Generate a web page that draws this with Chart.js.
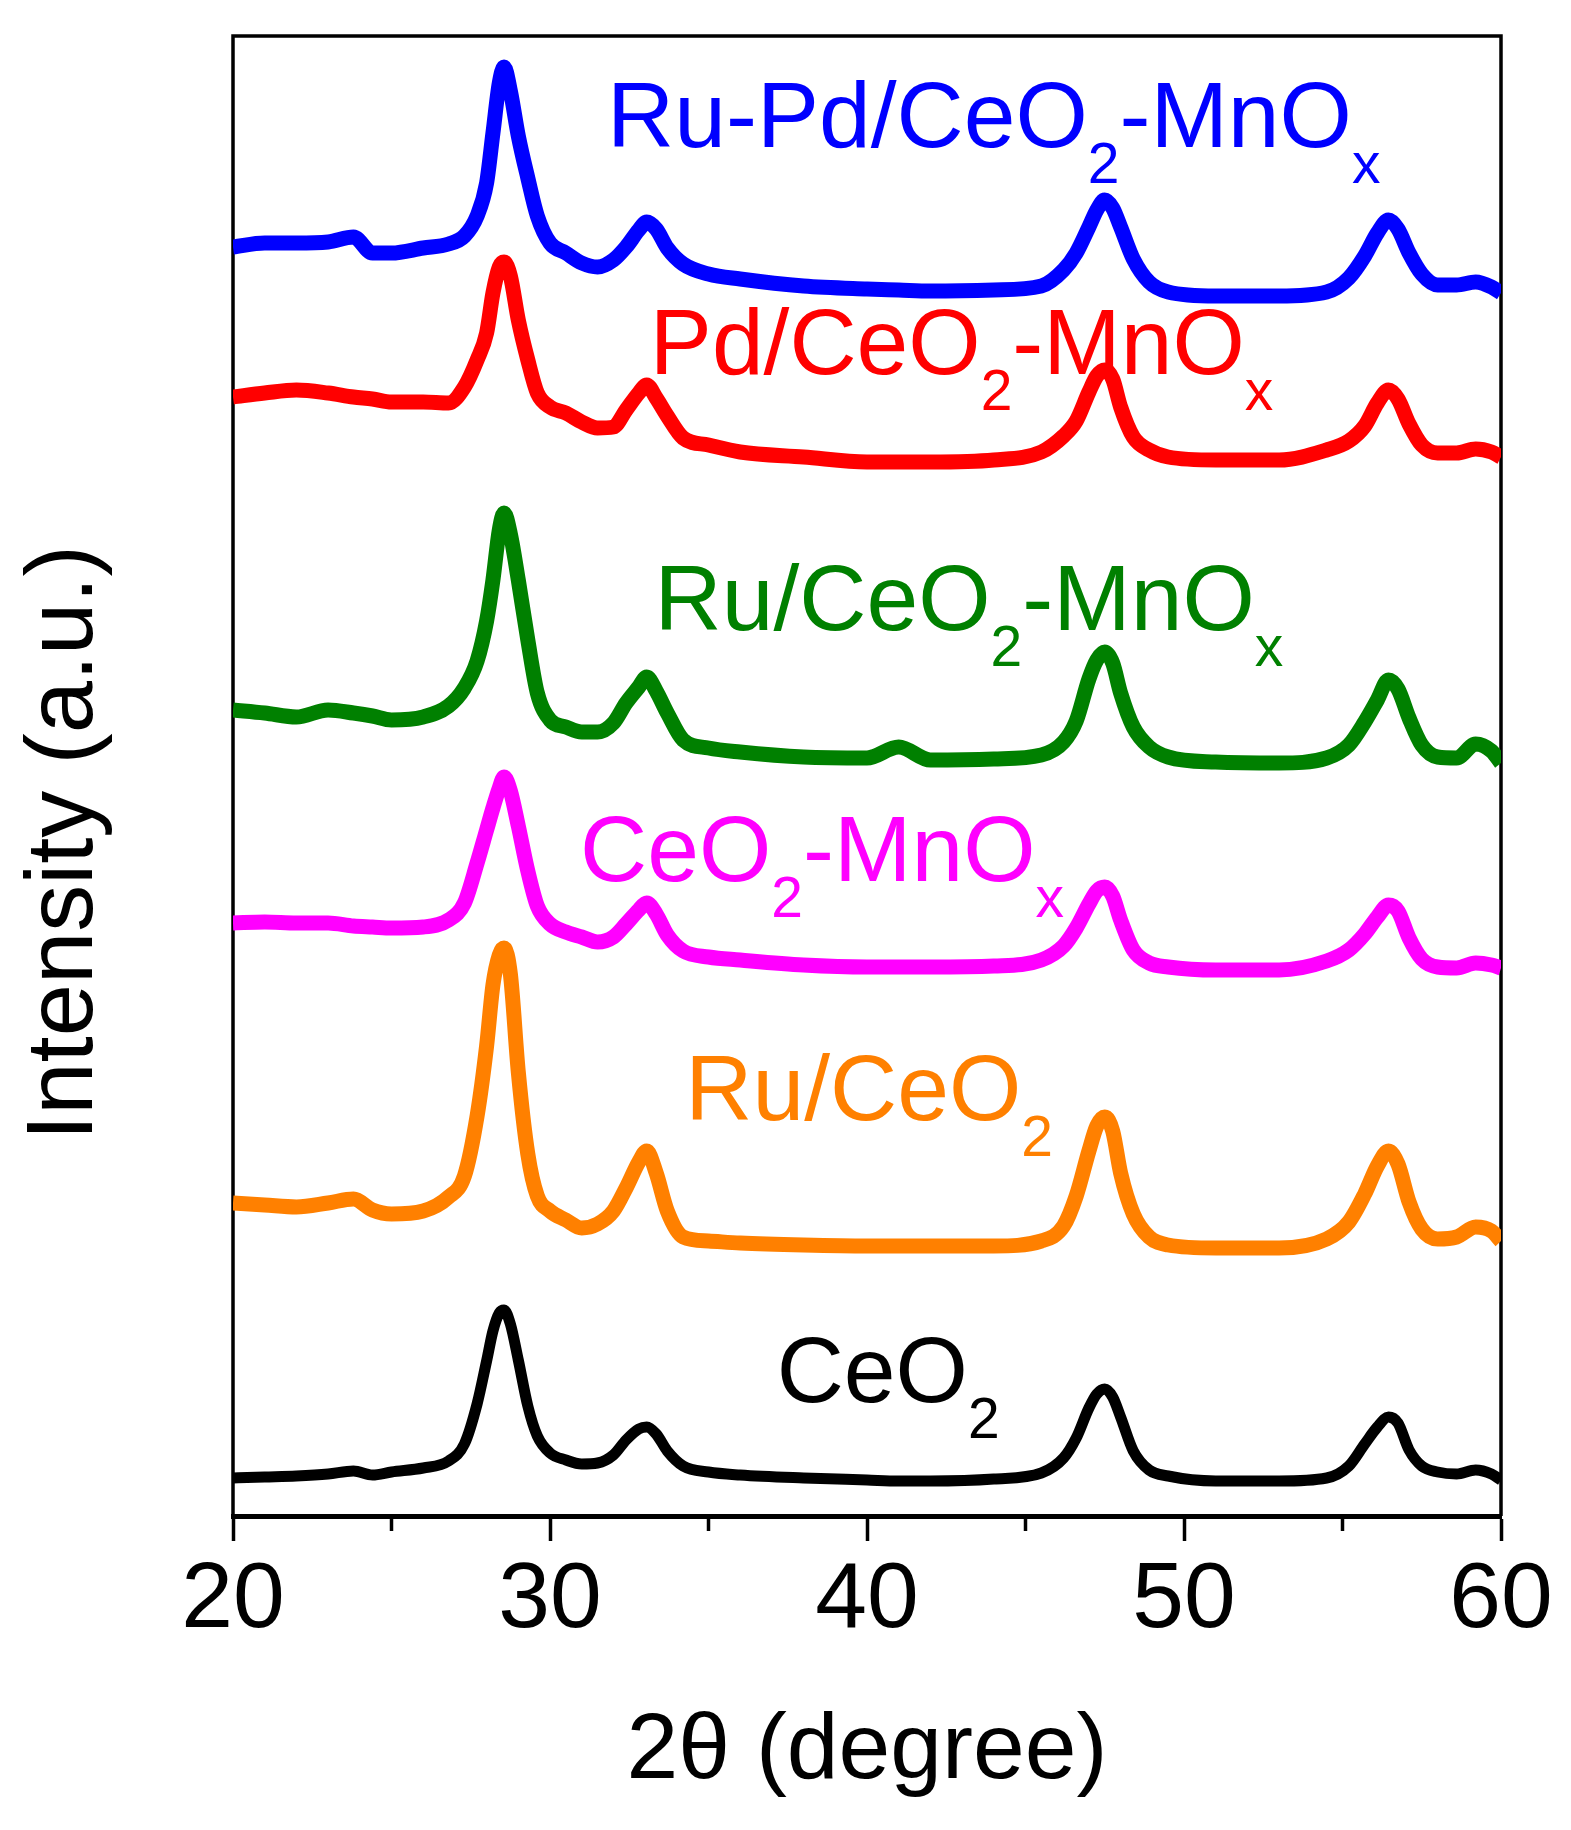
<!DOCTYPE html>
<html>
<head>
<meta charset="utf-8">
<script src="https://cdn.jsdelivr.net/npm/chart.js@4.4.0/dist/chart.umd.min.js"></script>
<style>
  html, body { margin: 0; padding: 0; background: #fff; }
  canvas { display: block; }
</style>
</head>
<body>
<canvas id="xrd" width="1571" height="1830"></canvas>
<script>
const twoTheta = [20, 21, 22, 23, 23.8, 24.4, 25, 26, 26.8, 27.3, 27.7, 28.0, 28.2, 28.4, 28.55, 28.75,
  29.0, 29.3, 29.6, 30.0, 30.5, 31, 31.5, 32, 32.4, 32.8, 33.05, 33.35, 33.7, 34.2, 35, 36, 38, 40, 41, 42,
  44, 45.5, 46.2, 46.6, 47.0, 47.25, 47.5, 47.75, 48.0, 48.4, 48.9, 49.5, 51, 53, 54.5, 55.2, 55.7, 56.1,
  56.45, 56.75, 57.1, 57.5, 58, 58.6, 59.2, 59.7, 60];

// stacked intensities (a.u.), offsets included as drawn
const ruPdCeMn = [1269, 1273, 1273, 1274, 1279, 1263, 1263, 1268, 1272, 1280, 1300, 1333, 1383, 1433, 1449, 1425,
  1380, 1338, 1300, 1273, 1263, 1253, 1249, 1256, 1269, 1286, 1294, 1287, 1268, 1252, 1242, 1237, 1230, 1227, 1226, 1225,
  1226, 1230, 1246, 1263, 1289, 1306, 1316, 1308, 1289, 1257, 1234, 1224, 1220, 1220, 1224, 1238, 1260, 1283,
  1296, 1287, 1263, 1242, 1231, 1231, 1234, 1229, 1223];
const pdCeMn = [1119, 1123, 1126, 1123, 1119, 1117, 1114, 1114, 1113, 1129, 1156, 1183, 1223, 1249, 1254, 1240,
  1196, 1156, 1123, 1109, 1103, 1094, 1088, 1089, 1106, 1123, 1131, 1118, 1100, 1078, 1071, 1064, 1059, 1054, 1054, 1054,
  1056, 1064, 1080, 1095, 1124, 1140, 1146, 1137, 1109, 1079, 1066, 1059, 1056, 1056, 1066, 1075, 1090, 1113,
  1126, 1117, 1092, 1071, 1063, 1063, 1067, 1064, 1059];
const ruCeMn = [806, 803, 799, 806, 803, 800, 796, 799, 810, 828, 855, 895, 936, 986, 1003, 982,
  936, 876, 823, 796, 789, 784, 784, 793, 813, 829, 839, 825, 803, 776, 768, 764, 759, 758, 769, 756,
  757, 761, 774, 795, 837, 856, 864, 853, 823, 789, 769, 759, 754, 753, 758, 771, 794, 816,
  836, 827, 798, 771, 759, 758, 772, 765, 753];
const ceMn = [593, 594, 593, 593, 590, 589, 588, 589, 596, 613, 653, 686, 708, 728, 739, 725,
  690, 645, 610, 592, 584, 579, 574, 579, 592, 606, 613, 602, 581, 565, 559, 556, 551, 549, 549, 549,
  550, 556, 570, 588, 612, 625, 629, 620, 596, 566, 553, 549, 546, 546, 555, 566, 582, 599,
  611, 605, 578, 557, 549, 548, 553, 551, 548];
const ruCe = [313, 311, 309, 313, 317, 306, 302, 305, 319, 340, 400, 470, 531, 561, 568, 542,
  444, 362, 320, 305, 296, 288, 292, 305, 328, 354, 365, 343, 305, 279, 275, 273, 271, 270, 270, 270,
  270, 275, 290, 320, 365, 390, 399, 385, 343, 302, 279, 271, 268, 268, 277, 294, 322, 350,
  365, 352, 314, 287, 277, 279, 289, 285, 275];
const ceO2 = [38, 39, 40, 42, 45, 41, 44, 48, 55, 72, 112, 155, 185, 203, 206, 192,
  156, 110, 80, 63, 56, 52, 53, 61, 76, 87, 89, 82, 65, 50, 44, 41, 38, 36, 35, 35,
  37, 43, 58, 78, 108, 122, 127, 119, 99, 65, 46, 40, 35, 35, 38, 50, 72, 89,
  99, 93, 66, 50, 44, 42, 46, 42, 36];

// sample names split into [text, isSubscript] pieces
const sampleNames = [
  [['Ru-Pd/CeO', 0], ['2', 1], ['-MnO', 0], ['x', 1]],
  [['Pd/CeO', 0], ['2', 1], ['-MnO', 0], ['x', 1]],
  [['Ru/CeO', 0], ['2', 1], ['-MnO', 0], ['x', 1]],
  [['CeO', 0], ['2', 1], ['-MnO', 0], ['x', 1]],
  [['Ru/CeO', 0], ['2', 1]],
  [['CeO', 0], ['2', 1]],
];
const seriesValues = [ruPdCeMn, pdCeMn, ruCeMn, ceMn, ruCe, ceO2];
const seriesColors = ['#0000ff', '#ff0000', '#008000', '#ff00ff', '#ff8000', '#000000'];
// where each name sits, in data units (left edge, baseline)
const nameAt2Theta = [31.8, 33.15, 33.3, 30.95, 34.27, 37.15];
const nameAtValue = [1369, 1142, 886, 635, 396, 114];

const minorTicks = [25, 35, 45, 55];

const FONT = '"Liberation Sans", Arial, Helvetica, sans-serif';
const MAIN_SIZE = 93;
const SUB_SIZE = 57;

const frame = {
  id: 'frame',
  beforeDatasetsDraw(chart) {
    const { ctx, chartArea: a } = chart;
    ctx.save();
    ctx.strokeStyle = '#000';
    ctx.lineWidth = 3.5;
    ctx.beginPath();
    ctx.moveTo(a.left, a.bottom);
    ctx.lineTo(a.left, a.top);
    ctx.lineTo(a.right, a.top);
    ctx.lineTo(a.right, a.bottom);
    ctx.stroke();
    // minor ticks
    const x = chart.scales.x;
    minorTicks.forEach((v) => {
      const px = x.getPixelForValue(v);
      ctx.beginPath();
      ctx.moveTo(px, a.bottom);
      ctx.lineTo(px, a.bottom + 15);
      ctx.stroke();
    });
    ctx.restore();
  },
  afterDraw(chart) {
    const { ctx } = chart;
    ctx.save();
    ctx.fillStyle = '#000';
    ctx.font = `94px ${FONT}`;
    ctx.textAlign = 'center';
    ctx.textBaseline = 'alphabetic';
    ctx.translate(92, 843);
    ctx.rotate(-Math.PI / 2);
    ctx.fillText('Intensity (a.u.)', 0, 0);
    ctx.restore();
  },
};

const names = {
  id: 'names',
  afterDatasetsDraw(chart) {
    const { ctx, scales } = chart;
    ctx.save();
    ctx.textBaseline = 'alphabetic';
    ctx.textAlign = 'left';
    sampleNames.forEach((parts, i) => {
      let x = scales.x.getPixelForValue(nameAt2Theta[i]);
      const y = scales.y.getPixelForValue(nameAtValue[i]);
      ctx.fillStyle = seriesColors[i];
      parts.forEach(([text, sub]) => {
        ctx.font = `${sub ? SUB_SIZE : MAIN_SIZE}px ${FONT}`;
        ctx.fillText(text, x, sub ? y + 36 : y);
        x += ctx.measureText(text).width;
      });
    });
    ctx.restore();
  },
};

new Chart(document.getElementById('xrd'), {
  type: 'line',
  data: {
    datasets: seriesValues.map((vals, i) => ({
      data: twoTheta.map((t, k) => ({ x: t, y: vals[k] })),
      borderColor: seriesColors[i],
      borderWidth: i === 5 ? 11 : 15,
      pointRadius: 0,
      cubicInterpolationMode: 'monotone',
      fill: false,
    })),
  },
  options: {
    responsive: false,
    animation: false,
    devicePixelRatio: 1,
    layout: { padding: { left: 233, right: 70, top: 36, bottom: 0 } },
    plugins: { legend: { display: false }, tooltip: { enabled: false } },
    scales: {
      x: {
        type: 'linear',
        min: 20,
        max: 60,
        afterFit: (scale) => { scale.height = 314; },
        border: { display: true, color: '#000', width: 5 },
        grid: {
          display: true,
          drawOnChartArea: false,
          drawTicks: true,
          tickLength: 25,
          tickWidth: 3.5,
          tickColor: '#000',
        },
        ticks: {
          stepSize: 10,
          color: '#000',
          padding: 5,
          maxRotation: 0,
          font: { family: FONT, size: MAIN_SIZE },
        },
        title: {
          display: true,
          text: '2θ (degree)',
          color: '#000',
          padding: { top: 0, bottom: 22 },
          font: { family: FONT, size: MAIN_SIZE },
        },
      },
      y: {
        display: false,
        min: 0,
        max: 1480,
      },
    },
  },
  plugins: [frame, names],
});
</script>
</body>
</html>
